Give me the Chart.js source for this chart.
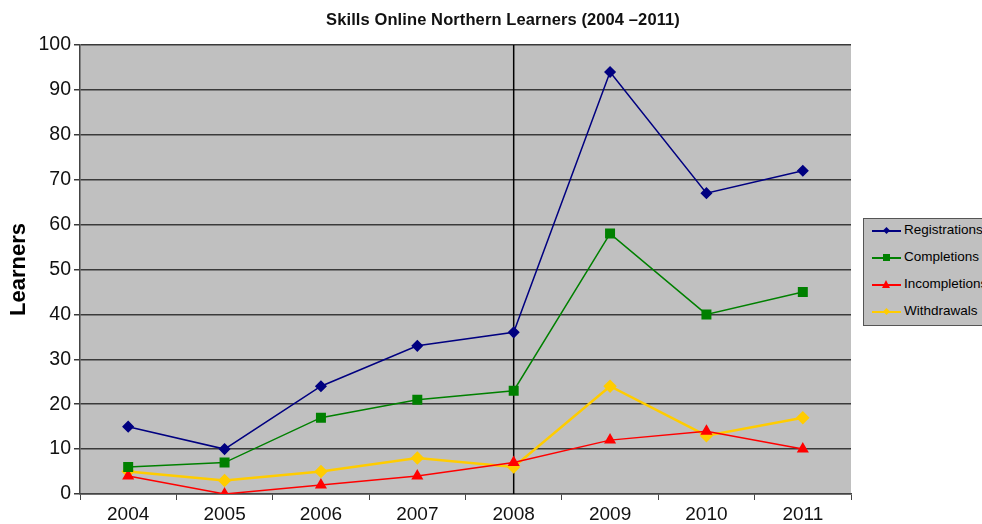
<!DOCTYPE html>
<html>
<head>
<meta charset="utf-8">
<script src="https://cdn.jsdelivr.net/npm/chart.js@4"></script>
<style>
  body { margin: 0; background: #fff; }
  #wrap { position: relative; width: 982px; height: 524px; }
  #title { position: absolute; left: 300px; width: 406px; top: 10px; text-align: center;
    font: bold 16.5px "Liberation Sans", Arial, sans-serif; color: #111; letter-spacing: 0.1px; }
  #legend { position: absolute; left: 863px; top: 218px; width: 130px; height: 106px;
    background: #c0c0c0; border: 1px solid #555; font: 13.5px "Liberation Sans", Arial, sans-serif; color: #000; }
  .item { position: absolute; left: 8px; height: 16px; }
  .item .ln { position: absolute; left: 0; top: 7px; width: 29px; height: 2px; }
  .item .mk { position: absolute; }
  .item span.t { position: absolute; left: 32px; top: -1px; white-space: nowrap; }
</style>
</head>
<body>
<div id="wrap">
  <canvas id="chart" width="982" height="524"></canvas>
  <div id="title">Skills Online Northern Learners (2004 &#8211;2011)</div>
  <div id="legend"></div>
</div>
<script>
let years = ['2004', '2005', '2006', '2007', '2008', '2009', '2010', '2011']
let registrations = [15, 10, 24, 33, 36, 94, 67, 72]
let completions = [6, 7, 17, 21, 23, 58, 40, 45]
let incompletions = [4, 0, 2, 4, 7, 12, 14, 10]
let withdrawals = [5, 3, 5, 8, 6, 24, 13, 17]
let seriesNames = ['Registrations', 'Completions', 'Incompletions', 'Withdrawals']
let seriesColors = ['#000080', '#008000', '#ff0000', '#ffcc00']
let markerStyles = ['rectRot', 'rect', 'triangle', 'rectRot']
let markerSizes = [5, 6, 5.5, 5]
let markerLine = '2008'

let fontFam = '"Liberation Sans", Arial, sans-serif'

// grey plot area
let plotBg = {
    id: 'plotBg',
    beforeDraw: (chart) => {
        let a = chart.chartArea
        let ctx = chart.ctx
        ctx.save()
        ctx.fillStyle = '#c0c0c0'
        ctx.fillRect(a.left, a.top, a.right - a.left, a.bottom - a.top)
        ctx.restore()
    }
}

// black vertical line at 2008
let yearLine = {
    id: 'yearLine',
    beforeDatasetsDraw: (chart) => {
        let a = chart.chartArea
        let x = chart.scales.x.getPixelForValue(years.indexOf(markerLine))
        let ctx = chart.ctx
        ctx.save()
        ctx.strokeStyle = '#000'
        ctx.lineWidth = 1.5
        ctx.beginPath()
        ctx.moveTo(x, a.top)
        ctx.lineTo(x, a.bottom)
        ctx.stroke()
        ctx.restore()
    }
}

let allData = [registrations, completions, incompletions, withdrawals]
let datasets = allData.map((d, i) => ({
    label: seriesNames[i],
    data: d,
    borderColor: seriesColors[i],
    backgroundColor: seriesColors[i],
    borderWidth: i == 3 ? 2.5 : 1.5,
    pointStyle: markerStyles[i],
    pointRadius: markerSizes[i],
    pointHoverRadius: markerSizes[i],
    tension: 0
}))

var ctx = document.getElementById('chart').getContext('2d')
var myChart = new Chart(ctx, {
    type: 'line',
    data: { labels: years, datasets: datasets },
    plugins: [plotBg, yearLine],
    options: {
        responsive: false,
        animation: false,
        layout: { padding: { left: 0, right: 131, top: 45, bottom: 0 } },
        plugins: {
            legend: { display: false },
            tooltip: { enabled: false },
            title: { display: false }
        },
        scales: {
            x: {
                offset: true,
                afterFit: (s) => { s.height = 30 },
                grid: { offset: true, drawOnChartArea: false, drawTicks: true, tickLength: 6, color: '#444' },
                border: { color: '#444', width: 1.5 },
                ticks: { color: '#111', font: { family: fontFam, size: 19 }, padding: 3 }
            },
            y: {
                min: 0,
                max: 100,
                afterFit: (s) => { s.width = 80 },
                ticks: { stepSize: 10, color: '#111', font: { family: fontFam, size: 19.5 }, padding: 3 },
                grid: { color: '#3a3a3a', lineWidth: 1.5, tickLength: 6 },
                border: { color: '#444', width: 1.5 },
                title: {
                    display: true,
                    text: 'Learners',
                    color: '#000',
                    font: { family: fontFam, size: 22, weight: 'bold' },
                    padding: { top: 6, bottom: 0 }
                }
            }
        }
    }
})

// legend with line + marker
let legend = document.getElementById('legend')
seriesNames.forEach((name, i) => {
    let item = document.createElement('div')
    item.className = 'item'
    item.style.top = (4 + i * 27) + 'px'
    let ln = document.createElement('div')
    ln.className = 'ln'
    ln.style.background = seriesColors[i]
    item.appendChild(ln)
    let mk = document.createElement('div')
    mk.className = 'mk'
    mk.style.background = seriesColors[i]
    if (markerStyles[i] == 'rect') {
        mk.style.left = '11px'; mk.style.top = '4px'; mk.style.width = '7px'; mk.style.height = '7px'
    } else if (markerStyles[i] == 'triangle') {
        mk.style.left = '10px'; mk.style.top = '3px'; mk.style.width = '0'; mk.style.height = '0'
        mk.style.background = 'none'
        mk.style.borderLeft = '4.5px solid transparent'
        mk.style.borderRight = '4.5px solid transparent'
        mk.style.borderBottom = '8px solid ' + seriesColors[i]
    } else {
        mk.style.left = '12px'; mk.style.top = '5px'; mk.style.width = '5px'; mk.style.height = '5px'
        mk.style.transform = 'rotate(45deg)'
    }
    item.appendChild(mk)
    let t = document.createElement('span')
    t.className = 't'
    t.textContent = name
    item.appendChild(t)
    legend.appendChild(item)
})
</script>
</body>
</html>
